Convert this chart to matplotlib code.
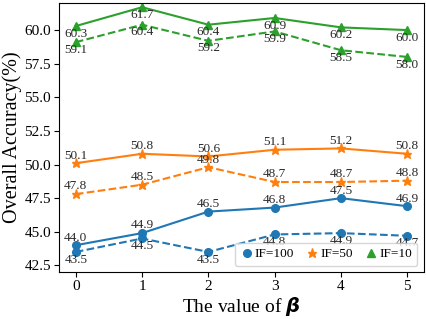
import matplotlib.pyplot as plt
from matplotlib.lines import Line2D

plt.rcParams['font.family'] = ['Liberation Serif', 'DejaVu Serif']
plt.rcParams['mathtext.fontset'] = 'dejavusans'

beta = [0, 1, 2, 3, 4, 5]
# solid / dashed series for each imbalance factor
if100_solid = [44.0, 44.9, 46.5, 46.8, 47.5, 46.9]
if100_dash = [43.5, 44.5, 43.5, 44.8, 44.9, 44.7]
if50_solid = [50.1, 50.8, 50.6, 51.1, 51.2, 50.8]
if50_dash = [47.8, 48.5, 49.8, 48.7, 48.7, 48.8]
if10_solid = [60.3, 61.7, 60.4, 60.9, 60.2, 60.0]
if10_dash = [59.1, 60.4, 59.2, 59.9, 58.5, 58.0]

fig, ax = plt.subplots(figsize=(4.26, 3.19), dpi=100)
fig.subplots_adjust(left=0.139, right=0.995, top=0.99, bottom=0.147)

series = [
    (if100_solid, '#1f77b4', 'o', '-', 1, 5.5),
    (if100_dash, '#1f77b4', 'o', '--', -1, 5.5),
    (if50_solid, '#ff7f0e', '*', '-', 1, 6.5),
    (if50_dash, '#ff7f0e', '*', '--', 1, 6.5),
    (if10_solid, '#2ca02c', '^', '-', -1, 6),
    (if10_dash, '#2ca02c', '^', '--', -1, 6),
]

for vals, c, m, ls, side, ms in series:
    ax.plot(beta, vals, color=c, marker=m, linestyle=ls, linewidth=1.5, markersize=ms)
    for x, y in zip(beta, vals):
        ax.annotate('%.1f' % y, (x, y), xytext=(0, 5.5 * side), textcoords='offset points',
                    ha='center', va='center', fontsize=9.5, color='#2a2a2a')

ax.set_ylim(42, 62)
ax.set_xticks(beta)
ax.set_yticks([42.5, 45.0, 47.5, 50.0, 52.5, 55.0, 57.5, 60.0])
ax.tick_params(labelsize=11, pad=2.5)
ax.set_xlabel(r'The value of $\boldsymbol{\beta}$', fontsize=14, va='center')
ax.set_ylabel('Overall Accuracy(%)', fontsize=14.5, va='center')
ax.xaxis.set_label_coords(0.5, -0.128)
ax.yaxis.set_label_coords(-0.128, 0.5)

handles = [
    Line2D([], [], color='#1f77b4', marker='o', linestyle='none', markersize=5.5, label='IF=100'),
    Line2D([], [], color='#ff7f0e', marker='*', linestyle='none', markersize=6.5, label='IF=50'),
    Line2D([], [], color='#2ca02c', marker='^', linestyle='none', markersize=6, label='IF=10'),
]
ax.legend(handles=handles, loc='lower right', ncol=3, fontsize=9.5,
          handlelength=1.0, handletextpad=0.1, columnspacing=0.9, borderpad=0.4)

plt.savefig('out.png', dpi=100)
